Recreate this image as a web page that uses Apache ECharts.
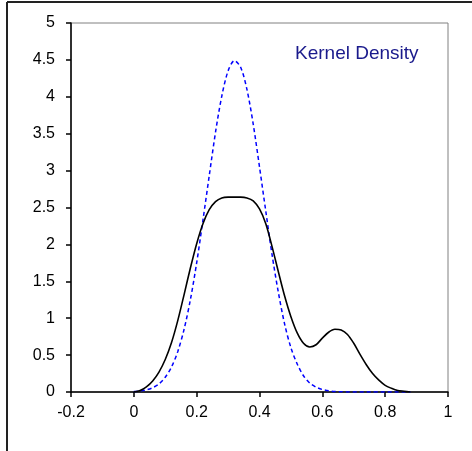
<!DOCTYPE html>
<html><head><meta charset="utf-8">
<script src="https://cdn.jsdelivr.net/npm/echarts@6/dist/echarts.min.js"></script>
<style>html,body{margin:0;padding:0;background:#fff}#c{width:472px;height:451px}</style>
</head><body><div id="c"></div>
<script>
var xs = [0.00,0.02,0.04,0.06,0.08,0.10,0.12,0.14,0.16,0.18,0.20,0.22,0.24,0.26,0.28,0.30,0.32,0.34,0.36,0.38,0.40,0.42,0.44,0.46,0.48,0.50,0.52,0.54,0.56,0.58,0.60,0.62,0.64,0.66,0.68,0.70,0.72,0.74,0.76,0.78,0.80,0.82,0.84,0.86,0.88];
var kernel = [0.00,0.02,0.07,0.15,0.27,0.44,0.67,0.97,1.32,1.68,2.01,2.28,2.47,2.58,2.63,2.64,2.64,2.64,2.63,2.59,2.48,2.28,1.97,1.63,1.30,1.02,0.80,0.66,0.61,0.64,0.73,0.81,0.85,0.84,0.78,0.66,0.51,0.37,0.25,0.16,0.09,0.05,0.02,0.01,0.00];
var normal = [0.006,0.014,0.029,0.058,0.11,0.20,0.34,0.55,0.85,1.25,1.75,2.33,2.93,3.52,4.01,4.35,4.49,4.40,4.10,3.63,3.05,2.45,1.86,1.35,0.92,0.60,0.38,0.22,0.12,0.066,0.034,0.016,0.007,0.003,0.001,0.0,0.0,0.0,0.0,0.0,0.0,0.0,0.0,0.0,0.0];
var xTicks = {min:-0.2, max:1, step:0.2};
var yTicks = {min:0, max:5, step:0.5};
var title = "Kernel Density";

function pairs(a){ return xs.map(function(x,i){ return [x,a[i]]; }); }
var chart = echarts.init(document.getElementById('c'), null, {renderer:'canvas'});
var font = '"Liberation Sans", Arial, sans-serif';
chart.setOption({
  animation:false,
  backgroundColor:'#fff',
  grid:{left:71, top:23, right:24, bottom:59, show:true, borderColor:'#808080', borderWidth:1},
  xAxis:{type:'value', min:xTicks.min, max:xTicks.max, interval:xTicks.step,
    axisLine:{onZero:false, lineStyle:{color:'#000', width:1.5}},
    axisTick:{inside:false, length:5, lineStyle:{color:'#000', width:1.5}},
    axisLabel:{color:'#000', fontSize:16, fontFamily:font, margin:13},
    splitLine:{show:false}},
  yAxis:{type:'value', min:yTicks.min, max:yTicks.max, interval:yTicks.step,
    axisLine:{show:true, onZero:false, lineStyle:{color:'#000', width:1.5}},
    axisTick:{show:true, inside:false, length:5, lineStyle:{color:'#000', width:1.5}},
    axisLabel:{color:'#000', fontSize:16, fontFamily:font, margin:16},
    splitLine:{show:false}},
  series:[
    {type:'line', data:pairs(normal), smooth:0.3, showSymbol:false,
      lineStyle:{color:'#0000ff', width:1.5, type:[4,3]}, z:2},
    {type:'line', data:pairs(kernel), smooth:0.3, showSymbol:false,
      lineStyle:{color:'#000', width:1.6}, z:3}
  ],
  graphic:[
    {type:'line', shape:{x1:7, y1:2, x2:472, y2:2}, style:{stroke:'#222', lineWidth:2}},
    {type:'line', shape:{x1:7, y1:2, x2:7, y2:451}, style:{stroke:'#222', lineWidth:2}},
    {type:'text', left:295, top:44, style:{text:title, fill:'#1a1a8c', font:'19px "Liberation Sans", Arial, sans-serif'}}
  ]
});
</script></body></html>
